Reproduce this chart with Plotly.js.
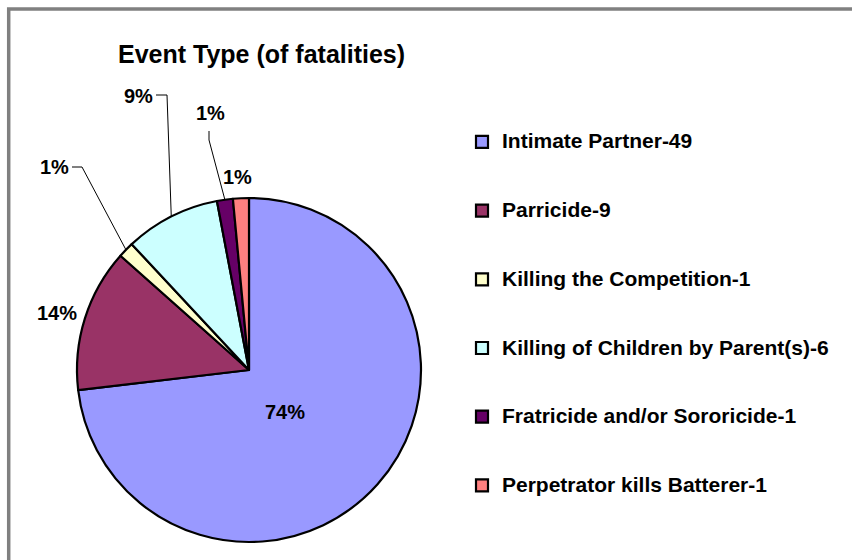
<!DOCTYPE html>
<html>
<head>
<meta charset="utf-8">
<script src="https://cdn.plot.ly/plotly-3.0.1.min.js"></script>
<style>html,body{margin:0;padding:0;background:#fff;}#chart{width:852px;height:560px;}</style>
</head>
<body>
<div id="chart"></div>
<script>
const categories = ["Intimate Partner-49", "Parricide-9", "Killing the Competition-1", "Killing of Children by Parent(s)-6", "Fratricide and/or Sororicide-1", "Perpetrator kills Batterer-1"];
const values = [49, 9, 1, 6, 1, 1];
const percentLabels = ["74%", "14%", "1%", "9%", "1%", "1%"];
const colors = ["#9999FF", "#993366", "#FFFFCC", "#CCFFFF", "#660066", "#FF8080"];

const W = 852, H = 560;
const FONT = "Liberation Sans, Arial, Helvetica, sans-serif";
// pie placement (pixels)
const CX = 249, CY = 370, R = 172;
// label text centres (pixels) and leader elbows (null = no leader)
const labelPos = [[285, 412], [57, 313], [54, 167], [138, 96], [210, 113], [238, 177]];
const leaderStart = [null, null, [[72, 167], [82, 167]], [[156, 95], [167, 95]], [[209, 131], [209, 140]], null];

const px = x => x / W;
const py = y => 1 - y / H;

const legendLabels = categories.map(c => " <br><span style='font-size:21px'>" + c + "</span><br> ");

const trace = {
  type: "pie",
  labels: legendLabels,
  values: values,
  text: percentLabels,
  textinfo: "none",
  hoverinfo: "label+value",
  sort: false,
  direction: "clockwise",
  rotation: 0,
  marker: {colors: colors, line: {color: "#000000", width: 2.2}},
  domain: {x: [px(CX - R), px(CX + R)], y: [py(CY + R), py(CY - R)]},
  automargin: false
};

// slice mid angles (clockwise from 12 o'clock) derived from the values
const total = values.reduce((a, b) => a + b, 0);
let cum = 0;
const midAngles = values.map(v => { const m = (cum + v / 2) / total * 2 * Math.PI; cum += v; return m; });

const annotations = percentLabels.map((t, i) => ({
  text: "<b>" + t + "</b>", xref: "paper", yref: "paper",
  x: px(labelPos[i][0]), y: py(labelPos[i][1]), xanchor: "center", yanchor: "middle",
  showarrow: false, font: {family: FONT, size: 20, color: "#000000"}
}));

const shapes = [{type: "rect", xref: "paper", yref: "paper", x0: px(8.7), x1: 1.05, y0: -0.05, y1: py(9),
                 line: {color: "#808080", width: 3.5}, fillcolor: "rgba(0,0,0,0)", layer: "below"}];
leaderStart.forEach((pts, i) => {
  if (!pts) return;
  const tx = CX + R * Math.sin(midAngles[i]);
  const ty = CY - R * Math.cos(midAngles[i]);
  const path = "M" + px(pts[0][0]) + "," + py(pts[0][1]) + " L" + px(pts[1][0]) + "," + py(pts[1][1]) + " L" + px(tx) + "," + py(ty);
  shapes.push({type: "path", xref: "paper", yref: "paper", path: path, line: {color: "#000000", width: 1}, layer: "above"});
});

const layout = {
  width: W, height: H,
  margin: {l: 0, r: 0, t: 0, b: 0},
  paper_bgcolor: "#ffffff",
  title: {text: "<b>Event Type (of fatalities)</b>", x: px(118), xanchor: "left", y: py(54), yanchor: "middle",
          font: {family: FONT, size: 25, color: "#000000"}},
  showlegend: true,
  legend: {x: px(462), xanchor: "left", y: py(102.5), yanchor: "top", valign: "middle",
           font: {family: FONT, size: 16.85, color: "#000000", weight: "bold"},
           bgcolor: "rgba(0,0,0,0)", borderwidth: 0},
  annotations: annotations,
  shapes: shapes
};

Plotly.newPlot("chart", [trace], layout, {displayModeBar: false, staticPlot: true});
</script>
</body>
</html>
